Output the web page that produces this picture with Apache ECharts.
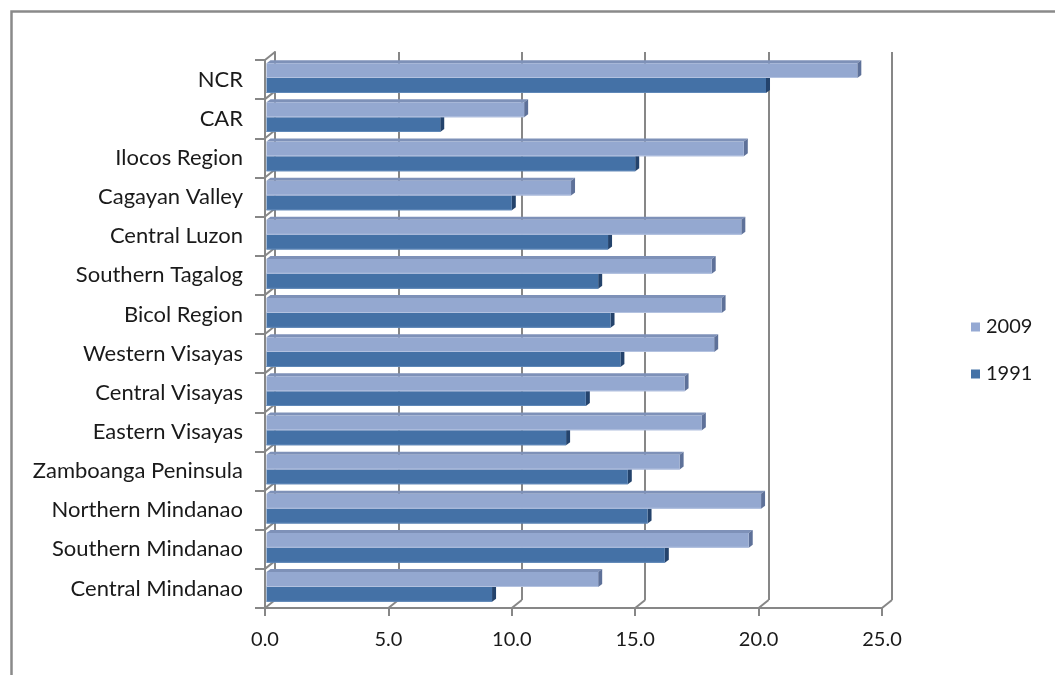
<!DOCTYPE html>
<html>
<head>
<meta charset="utf-8">
<title>Regions 1991 vs 2009</title>
<script src="https://cdn.jsdelivr.net/npm/echarts@6/dist/echarts.min.js"></script>
<style>
  html, body { margin: 0; padding: 0; background: #ffffff; }
  #chart { width: 1055px; height: 675px; }
</style>
</head>
<body>
<div id="chart"></div>
<script>
// Regions, top to bottom
const categories = [
  'NCR', 'CAR', 'Ilocos Region', 'Cagayan Valley', 'Central Luzon',
  'Southern Tagalog', 'Bicol Region', 'Western Visayas', 'Central Visayas',
  'Eastern Visayas', 'Zamboanga Peninsula', 'Northern Mindanao',
  'Southern Mindanao', 'Central Mindanao'
];
const values2009 = [24.0, 10.5, 19.4, 12.4, 19.3, 18.1, 18.5, 18.2, 17.0, 17.7, 16.8, 20.1, 19.6, 13.5];
const values1991 = [20.3, 7.1, 15.0, 10.0, 13.9, 13.5, 14.0, 14.4, 13.0, 12.2, 14.7, 15.5, 16.2, 9.2];
const seriesNames = ['2009', '1991'];
const xTicks = [0, 5, 10, 15, 20, 25];

// depth of the 3D box (pixels, up and to the right)
const DX = 10, DY = 8;
const FRONT = { left: 265, top: 60, width: 617, height: 548 };
const GRID_COLOR = '#878787';
const FONT = 'Lato, "Open Sans", sans-serif';
const TEXT_COLOR = '#1a1a1a';

const COLORS = [
  { face: '#94A8D0', top: '#7E91B8', side: '#5E7199', edge: '#B3C2E0' },
  { face: '#4471A6', top: '#365E90', side: '#24436C', edge: '#5F88B8' }
];

function barRenderer(idx) {
  return function (params, api) {
    const v = api.value(0), c = api.value(1);
    const start = api.coord([0, c]);
    const end = api.coord([v, c]);
    const band = api.size([0, 1])[1];
    const h = band * 0.38;
    const top = idx === 0 ? start[1] - 1.5 - h : start[1] - 1.5;
    const x0 = start[0] + 1.5, x1 = end[0];
    const d = 4, e = 3;
    const col = COLORS[idx];
    return {
      type: 'group',
      children: [
        { type: 'polygon', shape: { points: [[x0, top], [x1, top], [x1 + d, top - e], [x0 + d, top - e]] },
          style: { fill: col.top } },
        { type: 'polygon', shape: { points: [[x1, top], [x1 + d, top - e], [x1 + d, top + h - e], [x1, top + h]] },
          style: { fill: col.side } },
        { type: 'rect', shape: { x: x0, y: top, width: x1 - x0, height: h },
          style: { fill: col.face } },
        { type: 'rect', shape: { x: x0, y: top + h - 1, width: x1 - x0, height: 1 },
          style: { fill: col.edge } }
      ]
    };
  };
}

// short receding lines on the floor (one per value tick)
function floorRenderer(params, api) {
  const last = categories.length - 1;
  const p = api.coord([api.value(0), last]);
  const band = api.size([0, 1])[1];
  const y = p[1] + band / 2;
  return { type: 'line', shape: { x1: p[0], y1: y, x2: p[0] + DX, y2: y - DY },
           style: { stroke: GRID_COLOR, lineWidth: 2 } };
}

// receding lines on the side wall (one per category boundary)
function wallRenderer(params, api) {
  const p = api.coord([0, api.value(0)]);
  const band = api.size([0, 1])[1];
  const y = p[1] - band / 2;
  return { type: 'line', shape: { x1: p[0], y1: y, x2: p[0] + DX, y2: y - DY },
           style: { stroke: GRID_COLOR, lineWidth: 2 } };
}

const chart = echarts.init(document.getElementById('chart'), null, { renderer: 'canvas' });

chart.setOption({
  backgroundColor: '#ffffff',
  animation: false,
  textStyle: { fontFamily: FONT },
  graphic: [{
    type: 'rect', left: 9, top: 9, z: 100,
    shape: { width: 1100, height: 720 },
    style: { fill: null, stroke: '#8A8A8A', lineWidth: 2.5 }
  }],
  legend: {
    orient: 'vertical', left: 966, top: 312,
    itemWidth: 9, itemHeight: 9, itemGap: 27, icon: 'rect',
    data: seriesNames,
    textStyle: { fontFamily: FONT, fontSize: 20, color: TEXT_COLOR, lineHeight: 20, padding: [0, 0, 0, 1] }
  },
  grid: [
    { left: FRONT.left, top: FRONT.top, width: FRONT.width, height: FRONT.height },
    { left: FRONT.left + DX, top: FRONT.top - DY, width: FRONT.width, height: FRONT.height }
  ],
  xAxis: [
    {
      gridIndex: 0, type: 'value', min: 0, max: 25, interval: 5,
      axisLine: { show: true, lineStyle: { color: GRID_COLOR, width: 2 } },
      axisTick: { show: true, length: 8, lineStyle: { color: GRID_COLOR, width: 2 } },
      splitLine: { show: false },
      axisLabel: {
        margin: 22, color: TEXT_COLOR, fontSize: 20, fontFamily: FONT,
        formatter: v => v.toFixed(1)
      }
    },
    {
      gridIndex: 1, type: 'value', min: 0, max: 25, interval: 5,
      axisLine: { show: false }, axisTick: { show: false }, axisLabel: { show: false },
      splitLine: { show: true, lineStyle: { color: GRID_COLOR, width: 2 } }
    }
  ],
  yAxis: [
    {
      gridIndex: 0, type: 'category', data: categories, inverse: true,
      axisLine: { show: true, lineStyle: { color: GRID_COLOR, width: 2 } },
      axisTick: { show: true, length: 10, lineStyle: { color: GRID_COLOR, width: 2 } },
      axisLabel: { margin: 22, color: TEXT_COLOR, fontSize: 22, fontFamily: FONT, padding: [6, 0, 0, 0] }
    },
    {
      gridIndex: 1, type: 'category', data: categories, inverse: true,
      axisLine: { show: true, lineStyle: { color: GRID_COLOR, width: 2 } },
      axisTick: { show: false }, axisLabel: { show: false }, splitLine: { show: false }
    }
  ],
  series: [
    {
      type: 'custom', name: 'floor', xAxisIndex: 0, yAxisIndex: 0, z: 1, silent: true,
      renderItem: floorRenderer, data: xTicks.map(v => [v]), encode: { x: 0 }
    },
    {
      type: 'custom', name: 'wall', xAxisIndex: 0, yAxisIndex: 0, z: 1, silent: true,
      renderItem: wallRenderer, data: categories.map((_, i) => [i]), encode: { y: 0 }
    },
    {
      type: 'custom', name: seriesNames[0], xAxisIndex: 0, yAxisIndex: 0, z: 4,
      itemStyle: { color: '#95A9D3' },
      renderItem: barRenderer(0),
      data: values2009.map((v, i) => [v, i]), encode: { x: 0, y: 1 }
    },
    {
      type: 'custom', name: seriesNames[1], xAxisIndex: 0, yAxisIndex: 0, z: 3,
      itemStyle: { color: '#4472A7' },
      renderItem: barRenderer(1),
      data: values1991.map((v, i) => [v, i]), encode: { x: 0, y: 1 }
    }
  ]
});
</script>
</body>
</html>
